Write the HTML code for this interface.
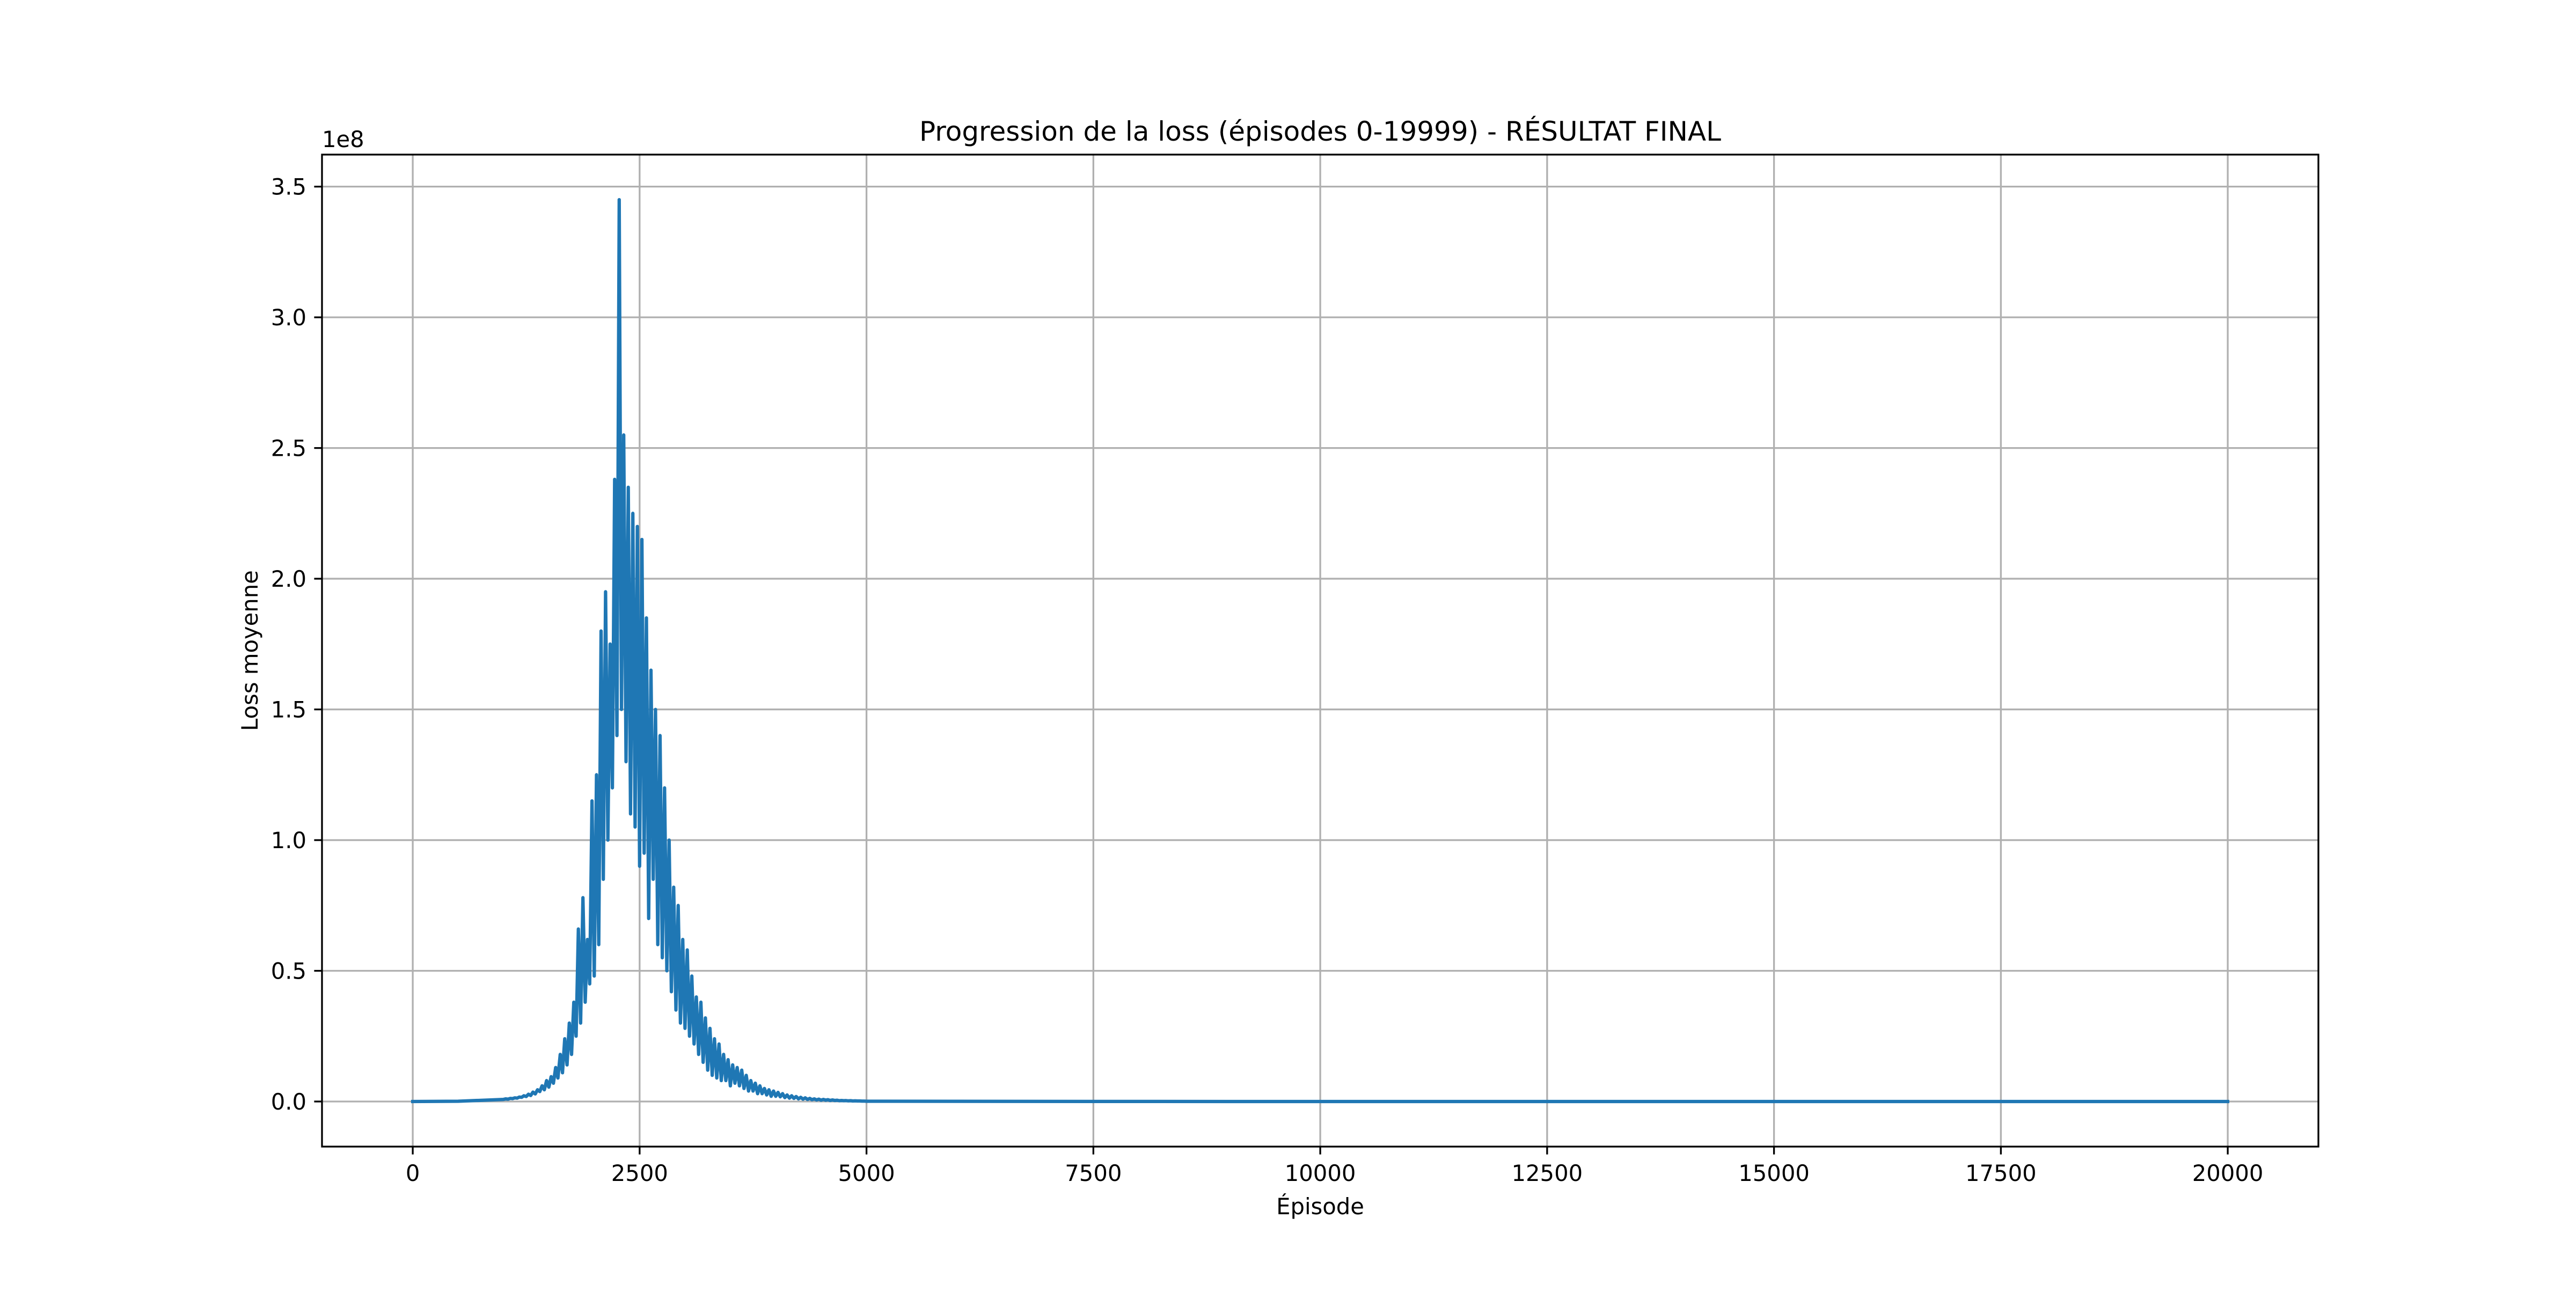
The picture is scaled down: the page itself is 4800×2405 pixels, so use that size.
<!DOCTYPE html>
<html><head><meta charset="utf-8"><style>
html,body{margin:0;padding:0;background:#fff;}
svg text{font-family:"DejaVu Sans","Liberation Sans",sans-serif;fill:#000;}
</style></head><body>
<svg id="chart" width="4800" height="2400" viewBox="0 0 4800 2400" xmlns="http://www.w3.org/2000/svg">
<rect width="4800" height="2400" fill="#fff"/>
<g id="grid"></g>
<g id="series"></g>
<rect x="600" y="288" width="3720" height="1848" fill="none" stroke="#000" stroke-width="3.3"/>
<g id="ticks"></g>
<text x="2460" y="262" font-size="50" text-anchor="middle">Progression de la loss (épisodes 0-19999) - RÉSULTAT FINAL</text>
<text x="2460" y="2262" font-size="41.7" text-anchor="middle">Épisode</text>
<text x="480" y="1212" font-size="41.7" text-anchor="middle" transform="rotate(-90 480 1212)">Loss moyenne</text>
<text x="600" y="274" font-size="41.7">1e8</text>
</svg>
<script>
const xTicks = [0,2500,5000,7500,10000,12500,15000,17500,20000];
const yTicks = [0,0.5,1.0,1.5,2.0,2.5,3.0,3.5];
const yTickLabels = ["0.0","0.5","1.0","1.5","2.0","2.5","3.0","3.5"];
const episodes = [0,500,
1000,1025,1050,1075,1100,1125,1150,1175,
1200,1225,1250,1275,1300,1325,1350,1375,
1400,1425,1450,1475,1500,1525,1550,1575,
1600,1625,1650,1675,1700,1725,1750,1775,
1800,1825,1850,1875,1900,1925,1950,1975,
2000,2025,2050,2075,2100,2125,2150,2175,
2200,2225,2250,2275,2300,2325,2350,2375,
2400,2425,2450,2475,2500,2525,2550,2575,
2600,2625,2650,2675,2700,2725,2750,2775,
2800,2825,2850,2875,2900,2925,2950,2975,
3000,3025,3050,3075,3100,3125,3150,3175,
3200,3225,3250,3275,3300,3325,3350,3375,
3400,3425,3450,3475,3500,3525,3550,3575,
3600,3625,3650,3675,3700,3725,3750,3775,
3800,3825,3850,3875,3900,3925,3950,3975,
4000,4025,4050,4075,4100,4125,4150,4175,
4200,4225,4250,4275,4300,4325,4350,4375,
4400,4425,4450,4475,4500,4525,4550,4575,
4600,4625,4650,4675,4700,4725,4750,4775,
4800,4825,4850,4875,4900,4925,4950,4975,
5000,7500,10000,15000,19999];
// loss values in units of 1e6
const lossValues = [0,0.1,
0.8,1.0,0.9,1.2,1.1,1.4,1.3,1.7,
1.6,2.2,1.9,2.8,2.3,3.6,2.9,4.5,
3.8,6.0,4.5,8.0,5.5,9.5,7.0,13,
9,18,11,24,14,30,18,38,
25,66,30,78,38,62,45,115,
48,125,60,180,85,195,100,175,
120,238,140,345,150,255,130,235,
110,225,105,220,90,215,95,185,
70,165,85,150,60,140,55,120,
50,100,42,82,35,75,30,62,
28,58,25,48,22,40,18,38,
15,32,12,28,10,24,9,22,
8,18,8,16,6,14,7,13,
6,12,5,10,4,8,4,7,
3,6,3,5,2.5,4.5,2,4,
2,3.5,1.8,3,1.5,2.5,1.3,2.2,
1.2,1.9,1,1.6,0.9,1.4,0.8,1.2,
0.7,1,0.6,0.9,0.5,0.8,0.5,0.7,
0.4,0.6,0.4,0.5,0.3,0.4,0.3,0.35,
0.25,0.3,0.2,0.25,0.2,0.2,0.15,0.15,
0.1,0.02,0.01,0.01,0.01];

const NS='http://www.w3.org/2000/svg';
const L=600,R=4320,T=288,B=2136;
const xMin=-999.95,xMax=20998.95,yMin=-17.25,yMax=362.25;
function xs(v){return L+(v-xMin)/(xMax-xMin)*(R-L);}
function ys(v){return B-(v-yMin)/(yMax-yMin)*(B-T);}
function mk(tag,attrs,parent){const e=document.createElementNS(NS,tag);for(const k in attrs)e.setAttribute(k,attrs[k]);parent.appendChild(e);return e;}
const grid=document.getElementById('grid'),ticks=document.getElementById('ticks'),series=document.getElementById('series');
xTicks.forEach(t=>{
  const x=xs(t);
  const g=mk('line',{x1:x,x2:x,y1:T,y2:B,stroke:'#b0b0b0','stroke-width':3.3},grid);
  
  
  const tk=mk('line',{x1:x,x2:x,y1:B,y2:B+14.6,stroke:'#000','stroke-width':3.3},ticks);
  
  
  const tx=mk('text',{x:x,y:B+29+35,'font-size':41.7,'text-anchor':'middle'},ticks);
  tx.textContent=String(t);
  
  
});
yTicks.forEach((t,i)=>{
  const y=ys(t*100);
  const g=mk('line',{x1:L,x2:R,y1:y,y2:y,stroke:'#b0b0b0','stroke-width':3.3},grid);
  
  
  const tk=mk('line',{x1:L-14.6,x2:L,y1:y,y2:y,stroke:'#000','stroke-width':3.3},ticks);
  
  
  const tx=mk('text',{x:L-29,y:y+15,'font-size':41.7,'text-anchor':'end'},ticks);
  tx.textContent=yTickLabels[i];
  
  
});
const pts=episodes.map((e,i)=>xs(e).toFixed(1)+','+ys(lossValues[i]).toFixed(1)).join(' ');
const line=mk('polyline',{points:pts,fill:'none',stroke:'#1f77b4','stroke-width':6.25,'stroke-linejoin':'round','stroke-linecap':'square'},series);


</script>
</body></html>
